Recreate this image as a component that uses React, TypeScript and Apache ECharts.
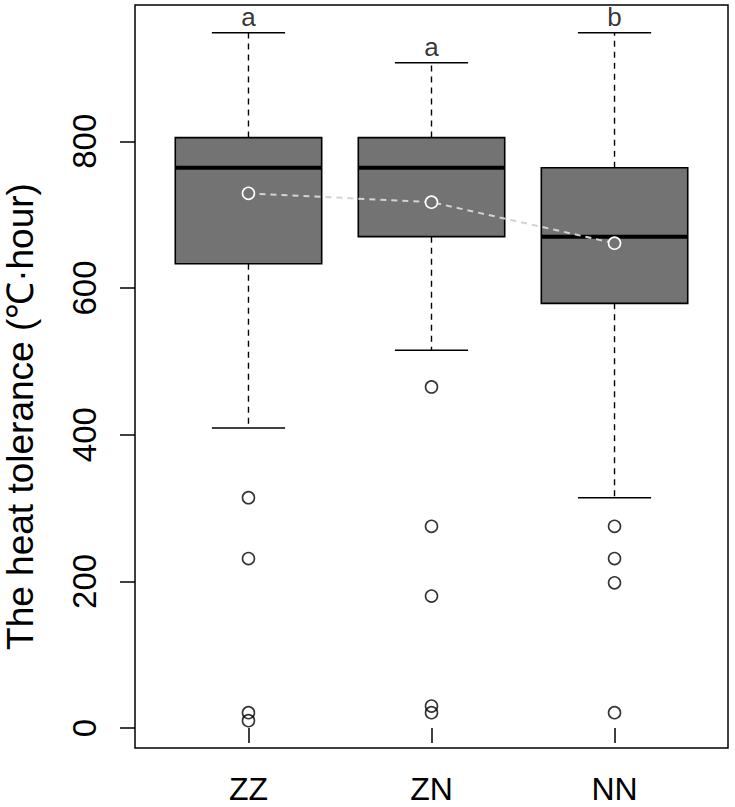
import React, { useEffect, useRef } from "react";
import * as echarts from "echarts";

const categories = ["ZZ", "ZN", "NN"];
const whiskerLow = [409, 515, 314];
const q1 = [633, 670, 579];
const median = [764, 764, 670];
const q3 = [805, 805, 764];
const whiskerHigh = [948, 907, 948];
const means = [729, 717, 661];
const outliersZZ = [314, 231, 21, 10];
const outliersZN = [465, 275, 180, 30, 21];
const outliersNN = [275, 231, 198, 21];
const letters = ["a", "a", "b"];
const yTicks = [0, 200, 400, 600, 800];
const yTitle = "The heat tolerance (\u2103\u00b7hour)";

const FONT = "'Liberation Sans', Arial, Helvetica, sans-serif";

export default function App() {
  const ref = useRef<HTMLDivElement>(null);

  useEffect(() => {
    if (!ref.current) return;
    const chart = echarts.init(ref.current, undefined, { renderer: "svg" });

    const boxData = categories.map((_, i) => [
      i + 1,
      whiskerLow[i],
      q1[i],
      median[i],
      q3[i],
      whiskerHigh[i],
    ]);
    const outlierGroups = [outliersZZ, outliersZN, outliersNN];
    const outlierData: number[][] = [];
    outlierGroups.forEach((arr, i) => arr.forEach((v) => outlierData.push([i + 1, v])));
    const meanData = means.map((v, i) => [i + 1, v]);
    const letterData = whiskerHigh.map((v, i) => ({ value: [i + 1, v], letter: letters[i] }));

    const option: any = {
      animation: false,
      backgroundColor: "#fff",
      grid: {
        left: 135,
        right: 7,
        top: 5,
        bottom: 59,
        containLabel: false,
        outerBoundsMode: "none",
        show: true,
        borderColor: "#000",
        borderWidth: 1.5,
        backgroundColor: "transparent",
      },
      xAxis: {
        type: "value",
        min: 0.38,
        max: 3.62,
        axisLine: { show: false },
        splitLine: { show: false },
        axisTick: {
          show: true,
          length: 15,
          customValues: [1, 2, 3],
          lineStyle: { color: "#000", width: 1.5 },
        },
        axisLabel: {
          customValues: [1, 2, 3],
          formatter: (v: number) => categories[Math.round(v) - 1] ?? "",
          fontSize: 32,
          fontFamily: FONT,
          color: "#000",
          margin: 25,
        },
      },
      yAxis: {
        type: "value",
        min: -27.2,
        max: 985.8,
        axisLine: { show: false },
        splitLine: { show: false },
        axisTick: {
          show: true,
          length: 15,
          customValues: yTicks,
          lineStyle: { color: "#000", width: 1.5 },
        },
        axisLabel: {
          customValues: yTicks,
          rotate: 90,
          fontSize: 33,
          fontFamily: FONT,
          color: "#000",
          margin: 34,
        },
        name: yTitle,
        nameLocation: "middle",
        nameRotate: 90,
        nameGap: 96,
        nameTextStyle: {
          fontSize: 37,
          fontFamily: FONT,
          color: "#000",
          padding: [0, 80, 0, 0],
        },
      },
      series: [
        {
          type: "custom",
          z: 2,
          data: boxData,
          encode: { x: 0, y: [1, 2, 3, 4, 5] },
          renderItem: (params: any, api: any) => {
            const x = api.value(0);
            const pLo = api.coord([x, api.value(1)]);
            const pQ1 = api.coord([x, api.value(2)]);
            const pMed = api.coord([x, api.value(3)]);
            const pQ3 = api.coord([x, api.value(4)]);
            const pHi = api.coord([x, api.value(5)]);
            const halfW = api.size([0.8, 0])[0] / 2;
            const capW = halfW / 2;
            const cx = pMed[0];
            const dash = { stroke: "#000", lineWidth: 1.4, lineDash: [6, 5] };
            const solid = { stroke: "#000", lineWidth: 1.6 };
            return {
              type: "group",
              children: [
                { type: "line", shape: { x1: cx, y1: pQ3[1], x2: cx, y2: pHi[1] }, style: dash },
                { type: "line", shape: { x1: cx, y1: pQ1[1], x2: cx, y2: pLo[1] }, style: dash },
                { type: "line", shape: { x1: cx - capW, y1: pHi[1], x2: cx + capW, y2: pHi[1] }, style: solid },
                { type: "line", shape: { x1: cx - capW, y1: pLo[1], x2: cx + capW, y2: pLo[1] }, style: solid },
                {
                  type: "rect",
                  shape: { x: cx - halfW, y: pQ3[1], width: halfW * 2, height: pQ1[1] - pQ3[1] },
                  style: { fill: "#737373", stroke: "#000", lineWidth: 1.6 },
                },
                {
                  type: "line",
                  shape: { x1: cx - halfW, y1: pMed[1], x2: cx + halfW, y2: pMed[1] },
                  style: { stroke: "#000", lineWidth: 4 },
                },
              ],
            };
          },
        },
        {
          type: "scatter",
          z: 3,
          data: outlierData,
          symbol: "circle",
          symbolSize: 12,
          itemStyle: { color: "rgba(0,0,0,0)", borderColor: "#000", borderWidth: 1.6 },
        },
        {
          type: "line",
          z: 4,
          data: meanData,
          symbol: "circle",
          symbolSize: 12,
          showSymbol: true,
          lineStyle: { color: "#d3d3d3", width: 2, type: [6, 5] },
          itemStyle: { color: "#737373", borderColor: "#fff", borderWidth: 1.6 },
        },
        {
          type: "scatter",
          z: 5,
          data: letterData,
          symbolSize: 0,
          label: {
            show: true,
            position: "top",
            distance: 3,
            formatter: (p: any) => p.data.letter,
            fontSize: 26,
            fontFamily: FONT,
            color: "#000",
          },
        },
      ],
    };

    chart.setOption(option);
    return () => chart.dispose();
  }, []);

  return (
    <div
      ref={ref}
      style={{ position: "fixed", left: 0, top: 0, width: 735, height: 807, background: "#fff" }}
    />
  );
}
